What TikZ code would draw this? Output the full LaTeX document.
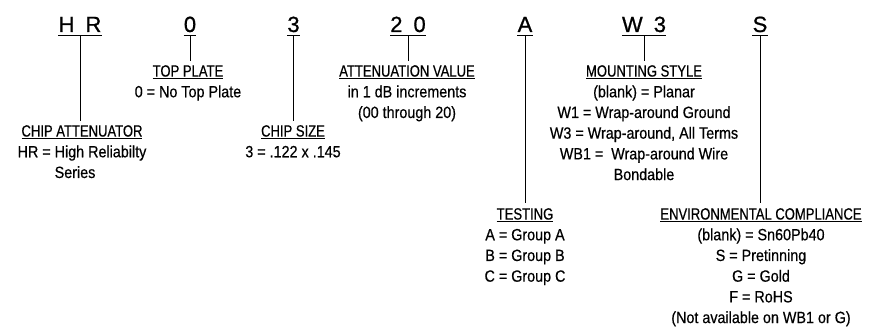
\documentclass[tikz,border=0pt]{standalone}
\usepackage{fontspec}
\setmainfont{Liberation Sans}[FakeStretch=0.88,FakeBold=0.5]
\newfontfamily\titlefnt{Liberation Sans}[FakeStretch=0.8,FakeBold=0.5]
\newfontfamily\codefnt{Liberation Sans}[FakeBold=0.8]
\newcommand\myul[1]{\setbox0\hbox{#1}\rlap{\rule[-2.2pt]{\wd0}{1pt}}\box0}
\newcommand\hangline[2]{\setbox2\hbox{#1}\hbox to \wd2{#2\hfil}}
\tikzset{
  code/.style={font=\codefnt\fontsize{22}{26}\selectfont, inner sep=0pt, anchor=base},
  desc/.style={font=\fontsize{16.3}{20.7}\selectfont, align=center, inner sep=0pt, anchor=north},
  conn/.style={line width=1pt},
  uline/.style={line width=1.6pt}
}
\begin{document}
\begin{tikzpicture}[x=1pt,y=-1pt]
\useasboundingbox (0,0) rectangle (879,328);
% code letters
\node[code] (hr) at (80,32) {H\hspace{11pt}R};
\node[code] (tp) at (190,32) {0};
\node[code] (cs) at (293.5,32) {3};
\node[code] (av) at (408,32) {2\hspace{11pt}0};
\node[code] (ts) at (525,32) {A};
\node[code] (ms) at (644,32) {W\hspace{11pt}3};
\node[code] (ec) at (760,32) {S};
\foreach \n in {hr,tp,cs,av,ts,ms,ec}{
  \draw[uline] ([yshift=-3.5pt]\n.base west) -- ([yshift=-3.5pt]\n.base east);
  \coordinate (\n U) at ([yshift=-3.5pt]\n.base);
}
% descriptions
\node[desc] (catt) at (82,125) {\myul{\titlefnt CHIP ATTENUATOR}\\
  HR = High Reliabilty\\
  \hangline{HR = High Reliabilty}{\phantom{HR = }Series}};
\node[desc] (tpd) at (188,65) {\myul{\titlefnt TOP PLATE}\\ 0 = No Top Plate};
\node[desc] (csd) at (293,125) {\myul{\titlefnt CHIP SIZE}\\ 3 = .122 x .145};
\node[desc] (avd) at (407,65) {\myul{\titlefnt ATTENUATION VALUE}\\ in 1 dB increments\\ (00 through 20)};
\node[desc] (msd) at (644,65) {\myul{\titlefnt MOUNTING STYLE}\\ (blank) = Planar\\ W1 = Wrap-around Ground\\
  W3 = Wrap-around, All Terms\\ WB1 = \ Wrap-around Wire\\ Bondable};
\node[desc] (tsd) at (525,208) {\myul{\titlefnt TESTING}\\ A = Group A\\ B = Group B\\ C = Group C};
\node[desc] (ecd) at (761,208) {\myul{\titlefnt ENVIRONMENTAL COMPLIANCE}\\ (blank) = Sn60Pb40\\ S = Pretinning\\
  G = Gold\\ F = RoHS\\ (Not available on WB1 or G)};
% connectors
\draw[conn] (hrU) -- ([yshift=4pt]hrU |- catt.north);
\draw[conn] (tpU) -- ([yshift=4pt]tpU |- tpd.north);
\draw[conn] (csU) -- ([yshift=4pt]csU |- csd.north);
\draw[conn] (avU) -- ([yshift=4pt]avU |- avd.north);
\draw[conn] (tsU) -- ([yshift=5pt]tsU |- tsd.north);
\draw[conn] (msU) -- ([yshift=4pt]msU |- msd.north);
\draw[conn] (ecU) -- ([yshift=5pt]ecU |- ecd.north);
\end{tikzpicture}
\end{document}
